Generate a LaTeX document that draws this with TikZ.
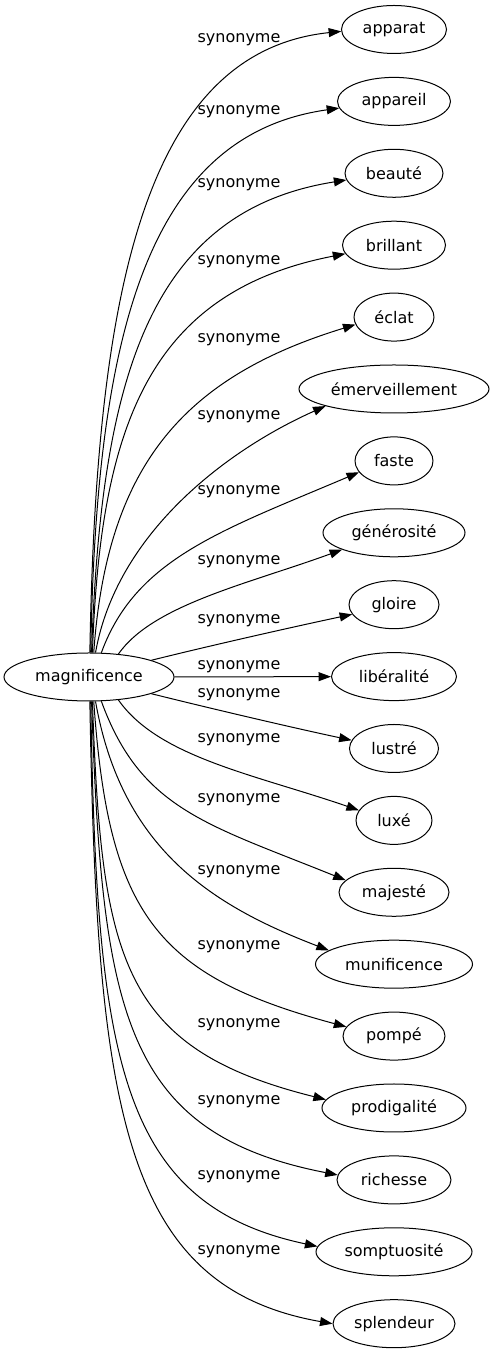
\documentclass[tikz,border=0pt]{standalone}
\usepackage{fontspec}
\setmainfont{DejaVu Sans}
\usetikzlibrary{arrows.meta,shapes.geometric}

\tikzset{
  word/.style={draw, ellipse, line width=1pt, inner sep=0pt, minimum height=48pt,
    font=\fontsize{16}{19}\selectfont},
  syn/.style={draw, line width=1pt, -{Triangle[length=12.5pt,width=9pt]}},
  lbl/.style={inner sep=0pt, font=\fontsize{16}{19}\selectfont},
}

\begin{document}
\begin{tikzpicture}[x=1pt,y=1pt]
  \useasboundingbox (0,0) rectangle (495,1355);

  % source word
  \node[word, minimum width=170pt] (magn) at (89,678) {magnificence};

  % synonyms, one per row
  \node[word, minimum width=105pt] (apparat)     at (394,1325.5) {apparat};
  \node[word, minimum width=113pt] (appareil)    at (394,1253.6) {appareil};
  \node[word, minimum width=98pt]  (beaute)      at (394,1181.7) {beauté};
  \node[word, minimum width=103pt] (brillant)    at (394,1109.8) {brillant};
  \node[word, minimum width=80pt]  (eclat)       at (394,1037.9) {éclat};
  \node[word, minimum width=190pt] (emerv)       at (394,966.0)  {émerveillement};
  \node[word, minimum width=78pt]  (faste)       at (394,894.1)  {faste};
  \node[word, minimum width=142pt] (generosite)  at (394,822.2)  {générosité};
  \node[word, minimum width=90pt]  (gloire)      at (394,750.3)  {gloire};
  \node[word, minimum width=125pt] (liberalite)  at (394,678.4)  {libéralité};
  \node[word, minimum width=89pt]  (lustre)      at (394,606.5)  {lustré};
  \node[word, minimum width=76pt]  (luxe)        at (394,534.6)  {luxé};
  \node[word, minimum width=110pt] (majeste)     at (394,462.7)  {majesté};
  \node[word, minimum width=157pt] (munif)       at (394,390.8)  {munificence};
  \node[word, minimum width=102pt] (pompe)       at (394,318.9)  {pompé};
  \node[word, minimum width=144pt] (prodigalite) at (394,247.0)  {prodigalité};
  \node[word, minimum width=114pt] (richesse)    at (394,175.1)  {richesse};
  \node[word, minimum width=156pt] (somptuosite) at (394,103.2)  {somptuosité};
  \node[word, minimum width=122pt] (splendeur)   at (394,31.3)   {splendeur};

  % edge labels
  \node[lbl] (s1)  at (239,1315.7) {synonyme};
  \node[lbl] (s2)  at (239,1243.3) {synonyme};
  \node[lbl] (s3)  at (239,1170.0) {synonyme};
  \node[lbl] (s4)  at (239,1093.3) {synonyme};
  \node[lbl] (s5)  at (239,1015.0) {synonyme};
  \node[lbl] (s6)  at (239,938.3)  {synonyme};
  \node[lbl] (s7)  at (239,863.3)  {synonyme};
  \node[lbl] (s8)  at (239,793.3)  {synonyme};
  \node[lbl] (s9)  at (239,734.0)  {synonyme};
  \node[lbl] (s10) at (239,688.3)  {synonyme};
  \node[lbl] (s11) at (239,660.0)  {synonyme};
  \node[lbl] (s12) at (239,615.0)  {synonyme};
  \node[lbl] (s13) at (239,555.7)  {synonyme};
  \node[lbl] (s14) at (239,483.3)  {synonyme};
  \node[lbl] (s15) at (239,408.3)  {synonyme};
  \node[lbl] (s16) at (239,330.0)  {synonyme};
  \node[lbl] (s17) at (239,253.3)  {synonyme};
  \node[lbl] (s18) at (239,178.3)  {synonyme};
  \node[lbl] (s19) at (239,103.3)  {synonyme};

  % edges
  \draw[syn] (magn.88) .. controls +(89:354) and +(186:200) .. (apparat.182);
  \draw[syn] (magn.86) .. controls +(89:311) and +(188:197) .. (appareil.187);
  \draw[syn] (magn.84) .. controls +(88:270) and +(189:202) .. (beaute.188);
  \draw[syn] (magn.82) .. controls +(88:227) and +(191:200) .. (brillant.190);
  \draw[syn] (magn.79) .. controls +(86:187) and +(197:180) .. (eclat.191);
  \draw[syn] (magn.75) .. controls +(80:120) and +(204:110) .. (emerv.194);
  \draw[syn] (magn.63) .. controls +(70:100) and +(203:150) .. (faste.198);
  \draw[syn] (magn.38) .. controls +(55:60) and +(200:100) .. (generosite.198);
  \draw[syn] (magn.15) .. controls +(14:60) and +(192:60) .. (gloire.193);
  \draw[syn] (magn) -- (liberalite);
  \draw[syn] (magn.345) .. controls +(346:60) and +(168:60) .. (lustre.169);
  \draw[syn] (magn.322) .. controls +(305:70) and +(161:110) .. (luxe.164);
  \draw[syn] (magn.297) .. controls +(290:115) and +(158:150) .. (majeste.166);
  \draw[syn] (magn.285) .. controls +(280:150) and +(159:125) .. (munif.168);
  \draw[syn] (magn.281) .. controls +(274:212) and +(165:198) .. (pompe.169);
  \draw[syn] (magn.278) .. controls +(272:259) and +(166:211) .. (prodigalite.173);
  \draw[syn] (magn.276) .. controls +(272:308) and +(169:220) .. (richesse.175);
  \draw[syn] (magn.274) .. controls +(271:355) and +(168:204) .. (somptuosite.176);
  \draw[syn] (magn.272) .. controls +(271:405) and +(170:214) .. (splendeur.180);
\end{tikzpicture}
\end{document}
